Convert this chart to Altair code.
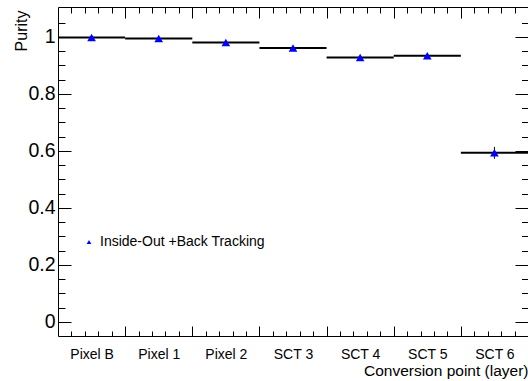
import json
import altair as alt
import pandas as pd

# Conversion layers (one bin each) and the measured purity per layer
layers = ["Pixel B", "Pixel 1", "Pixel 2", "SCT 3", "SCT 4", "SCT 5", "SCT 6"]
purity = [0.998, 0.994, 0.980, 0.961, 0.928, 0.934, 0.593]
purity_err = [0.002, 0.002, 0.003, 0.004, 0.005, 0.005, 0.021]
series_name = "Inside-Out +Back Tracking"

# Axis tick positions
y_major = [0, 0.2, 0.4, 0.6, 0.8, 1.0]
y_minor = [0.05, 0.1, 0.15, 0.25, 0.3, 0.35, 0.45, 0.5, 0.55, 0.65, 0.7,
           0.75, 0.85, 0.9, 0.95, 1.05]
x_edges = [1, 2, 3, 4, 5, 6]
x_minor = [b + f for b in range(7) for f in (0.2, 0.4, 0.6, 0.8)]
x_centers = [i + 0.5 for i in range(len(layers))]

df = pd.DataFrame({
    "layer": layers,
    "lo": list(range(len(layers))),
    "hi": [i + 1 for i in range(len(layers))],
    "center": x_centers,
    "purity": purity,
    "err_lo": [p - e for p, e in zip(purity, purity_err)],
    "err_hi": [p + e for p, e in zip(purity, purity_err)],
    "series": [series_name] * len(layers),
})

W, H = 470, 329
FONT = "Liberation Sans, Arial, Helvetica, sans-serif"

xs = alt.Scale(domain=[0, 7], nice=False, zero=False)
ys = alt.Scale(domain=[-0.05, 1.105], nice=False, zero=False)


def tick_axis(orient, values, size, offset):
    # ticks only, drawn pointing into the frame
    return alt.Axis(orient=orient, values=values, tickSize=size, offset=offset,
                    labels=False, domain=False, grid=False, title=None,
                    ticks=True, tickColor="black", tickWidth=1)


label_expr = json.dumps(layers) + "[floor(datum.value)]"

x_label_axis = alt.Axis(
    orient="bottom", values=x_centers, labelExpr=label_expr, ticks=False,
    tickSize=0, domain=False, grid=False, labelFont=FONT, labelFontSize=14,
    labelColor="black", labelBaseline="alphabetic", labelPadding=22,
    labelFlush=False, title="Conversion point (layer)", titleFont=FONT,
    titleFontSize=15.5, titleFontWeight="normal", titleColor="black",
    titleAlign="right", titleBaseline="alphabetic", titleX=W, titleY=39,
)
y_label_axis = alt.Axis(
    orient="left", values=y_major, format="~g", ticks=False, tickSize=0,
    domain=False, grid=False, labelFont=FONT, labelFontSize=19.5,
    labelColor="black", labelBaseline="middle", labelPadding=3,
    title="Purity", titleFont=FONT, titleFontSize=16,
    titleFontWeight="normal", titleColor="black", titleAngle=270,
    titleAlign="right", titleBaseline="alphabetic", titleX=-32, titleY=3,
)

legend = alt.Legend(orient="none", legendX=24, legendY=228, title=None,
                    symbolSize=22, symbolStrokeWidth=0,
                    symbolFillColor="#0000ff", labelFont=FONT,
                    labelFontSize=14, labelColor="black", labelOffset=4,
                    labelLimit=0, padding=0)

base = alt.Chart(df)

# horizontal bin-width bars at each purity value
bins = base.mark_rule(color="black", strokeWidth=2).encode(
    x=alt.X("lo:Q", scale=xs, axis=x_label_axis),
    x2="hi:Q",
    y=alt.Y("purity:Q", scale=ys, axis=y_label_axis),
)

errs = base.mark_rule(color="black", strokeWidth=1).encode(
    x=alt.X("center:Q", scale=xs, axis=tick_axis("top", x_edges, 10, -H)),
    y=alt.Y("err_lo:Q", scale=ys, axis=tick_axis("right", y_major, 13, -W)),
    y2="err_hi:Q",
)

points = base.mark_point(filled=True, size=75, opacity=1).encode(
    x=alt.X("center:Q", scale=xs, axis=tick_axis("top", x_minor, 5, -H)),
    y=alt.Y("purity:Q", scale=ys, axis=tick_axis("right", y_minor, 7, -W)),
    shape=alt.Shape("series:N", scale=alt.Scale(range=["triangle-up"]),
                    legend=legend),
    color=alt.Color("series:N", scale=alt.Scale(range=["#0000ff"]),
                    legend=legend),
)

# carriers for the top and right tick sets
top_major = base.mark_rule(opacity=0).encode(
    x=alt.X("center:Q", scale=xs, axis=tick_axis("bottom", x_edges, 11, -H)),
    y=alt.Y("purity:Q", scale=ys, axis=tick_axis("left", y_major, 13, -W)),
)
top_minor = base.mark_rule(opacity=0).encode(
    x=alt.X("center:Q", scale=xs, axis=tick_axis("bottom", x_minor, 6, -H)),
    y=alt.Y("purity:Q", scale=ys, axis=tick_axis("left", y_minor, 6.5, -W)),
)

chart = (
    alt.layer(top_major, top_minor, bins, errs, points)
    .resolve_axis(x="independent", y="independent")
    .properties(width=W, height=H, background="white",
                autosize=alt.AutoSizeParams(type="none"),
                padding={"left": 58, "top": 7, "right": 0, "bottom": 44})
    .configure_view(stroke="black", strokeWidth=1)
)

chart.save("out.html", embed_options={"renderer": "svg", "actions": False})
